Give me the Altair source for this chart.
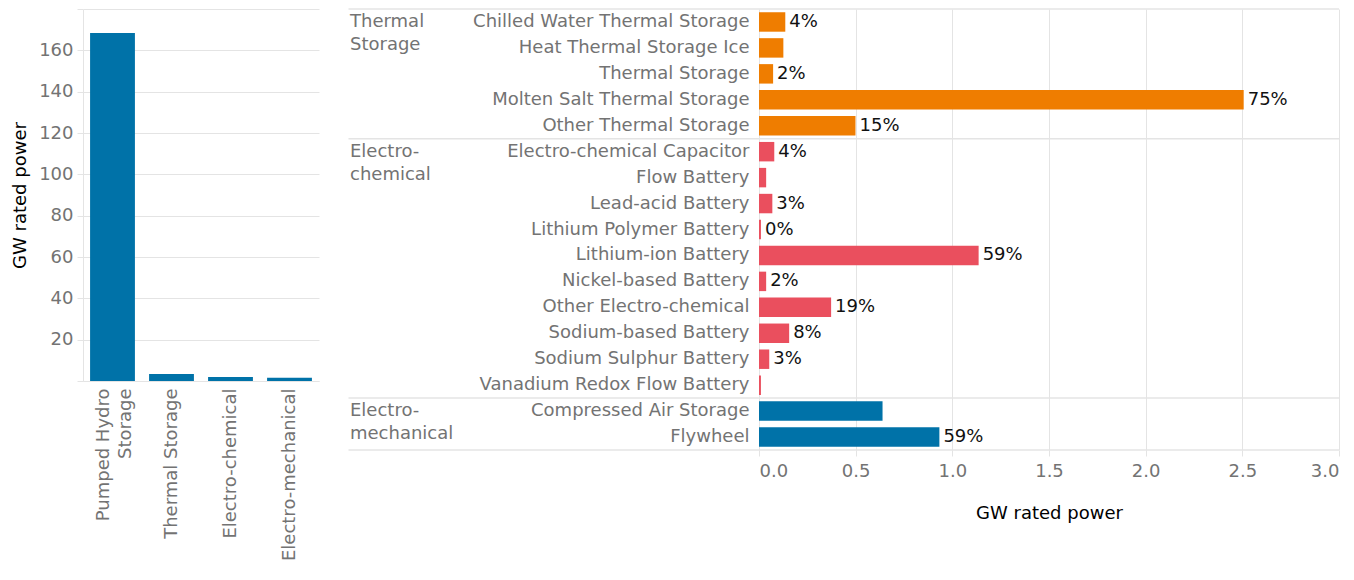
import altair as alt
import pandas as pd

# ---------------- data ----------------
left_categories = ["Pumped Hydro Storage", "Thermal Storage", "Electro-chemical", "Electro-mechanical"]
left_values = [168.4, 3.34, 1.96, 1.57]

right_groups = ["Thermal Storage"] * 5 + ["Electro-chemical"] * 10 + ["Electro-mechanical"] * 2
right_techs = [
    "Chilled Water Thermal Storage", "Heat Thermal Storage Ice", "Thermal Storage",
    "Molten Salt Thermal Storage", "Other Thermal Storage",
    "Electro-chemical Capacitor", "Flow Battery", "Lead-acid Battery", "Lithium Polymer Battery",
    "Lithium-ion Battery", "Nickel-based Battery", "Other Electro-chemical",
    "Sodium-based Battery", "Sodium Sulphur Battery", "Vanadium Redox Flow Battery",
    "Compressed Air Storage", "Flywheel",
]
right_values = [0.136, 0.126, 0.073, 2.507, 0.499,
                0.079, 0.037, 0.069, 0.010, 1.136, 0.037, 0.373, 0.156, 0.053, 0.010,
                0.639, 0.933]
right_labels = ["4%", "", "2%", "75%", "15%",
                "4%", "", "3%", "0%", "59%", "2%", "19%", "8%", "3%", "",
                "", "59%"]

group_names = ["Thermal Storage", "Electro-chemical", "Electro-mechanical"]
group_titles = ["Thermal\nStorage", "Electro-\nchemical", "Electro-\nmechanical"]
group_first = ["Chilled Water Thermal Storage", "Electro-chemical Capacitor", "Compressed Air Storage"]
group_colors = ["#ef7d00", "#ea4f5e", "#0072a8"]

x_ticks = [0.0, 0.5, 1.0, 1.5, 2.0, 2.5, 3.0]
y_ticks = [0, 20, 40, 60, 80, 100, 120, 140, 160, 180]

# ---------------- style ----------------
FONT = "DejaVu Sans"
FS = 18
GRID = "#e4e4e4"
LABEL = "#737373"
BLUE = "#0072a8"

RW, RH = 580, 441
STEP = RH / len(right_techs)

# ---------------- left chart ----------------
left_df = pd.DataFrame({"category": left_categories, "gw": left_values})
left = alt.Chart(left_df).mark_bar(color=BLUE).encode(
    x=alt.X("category:N", sort=left_categories,
            scale=alt.Scale(paddingInner=0.24, paddingOuter=0.12),
            axis=alt.Axis(title=None, labelAngle=-90, ticks=False, labelPadding=7,
                          labelExpr="datum.label == 'Pumped Hydro Storage' ? ['Pumped Hydro', 'Storage'] : datum.label",
                          labelOffset={"condition": {"test": "datum.label == 'Pumped Hydro Storage'", "value": -9},
                                       "value": 0},
                          labelLineHeight=22, domain=True)),
    y=alt.Y("gw:Q", scale=alt.Scale(domain=[0, 180], nice=False),
            axis=alt.Axis(title="GW rated power", values=y_ticks, tickSize=6, labelPadding=4,
                          titlePadding=9, grid=True,
                          labelExpr="datum.value == 0 || datum.value == 180 ? '' : datum.label")),
).properties(width=236, height=372)

# ---------------- right chart ----------------
right_df = pd.DataFrame({"group": right_groups, "tech": right_techs,
                         "gw": right_values, "label": right_labels})
grp_df = pd.DataFrame({"tech": group_first, "gtitle": group_titles})
last_df = pd.DataFrame({"tech": [right_techs[-1]]})

y_enc = alt.Y("tech:N",
              scale=alt.Scale(domain=right_techs, paddingInner=0.25, paddingOuter=0.125),
              axis=alt.Axis(title=None, domain=False, ticks=False, grid=False, labelPadding=10))
x_enc = alt.X("gw:Q", scale=alt.Scale(domain=[0, 3], nice=False),
              axis=alt.Axis(title="GW rated power", values=x_ticks, format=".1f", grid=True,
                            domain=False, ticks=True, tickSize=6, labelPadding=6,
                            labelFlush=True, titlePadding=24))

bars = alt.Chart(right_df).mark_bar().encode(
    x=x_enc, y=y_enc,
    color=alt.Color("group:N", scale=alt.Scale(domain=group_names, range=group_colors), legend=None),
)
pct = alt.Chart(right_df).mark_text(align="left", baseline="middle", dx=4, fontSize=FS,
                                    font=FONT, color="#111111").encode(
    x="gw:Q", y=y_enc, text="label:N")

gl = alt.Chart(grp_df).mark_text(align="left", baseline="middle", lineBreak="\n", lineHeight=23,
                                 fontSize=FS, font=FONT, color=LABEL).encode(
    x=alt.value(-409), y=y_enc, text="gtitle:N")

sep_top = alt.Chart(grp_df).mark_rule(color=GRID, strokeWidth=1.5, yOffset=-STEP / 2).encode(
    x=alt.value(-410.5), x2=alt.value(RW), y=y_enc)
sep_bot = alt.Chart(last_df).mark_rule(color=GRID, strokeWidth=1.5, yOffset=STEP / 2).encode(
    x=alt.value(-410.5), x2=alt.value(RW), y=y_enc)

right = alt.layer(sep_top, sep_bot, bars, pct, gl).properties(width=RW, height=RH)

chart = alt.hconcat(left, right, spacing=28).configure_view(stroke=None).configure_axis(
    labelFont=FONT, titleFont=FONT, labelFontSize=FS, titleFontSize=FS,
    gridColor=GRID, domainColor=GRID, tickColor=GRID, labelColor=LABEL,
    titleColor="black", titleFontWeight="normal", labelLimit=400,
).properties(padding={"left": 3, "top": 0, "right": 5, "bottom": 5})

chart.save("out.html", embed_options={"renderer": "svg", "actions": False})
